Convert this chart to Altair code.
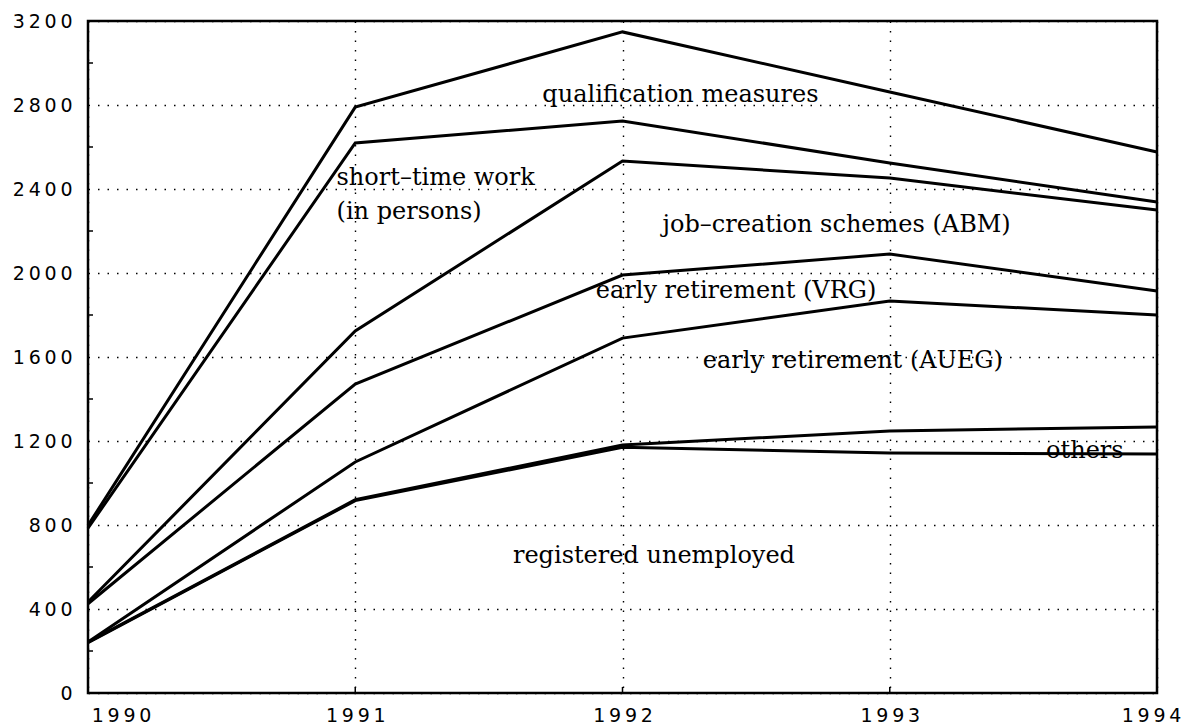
import altair as alt
import pandas as pd

years = [1990, 1991, 1992, 1993, 1994]
registered_unemployed = [240, 916, 1170, 1143, 1138]
others = [242, 920, 1181, 1248, 1267]
early_retirement_aueg = [243, 1100, 1690, 1867, 1800]
early_retirement_vrg = [425, 1471, 1990, 2090, 1914]
job_creation_abm = [433, 1724, 2533, 2452, 2300]
short_time_work = [785, 2619, 2724, 2524, 2338]
qualification = [798, 2790, 3148, 2862, 2576]

series = {
    "registered unemployed": registered_unemployed,
    "others": others,
    "early retirement (AUEG)": early_retirement_aueg,
    "early retirement (VRG)": early_retirement_vrg,
    "job-creation schemes (ABM)": job_creation_abm,
    "short-time work": short_time_work,
    "qualification measures": qualification,
}

label_texts = ["qualification measures", "short–time work", "(in persons)",
               "job–creation schemes (ABM)", "early retirement (VRG)",
               "early retirement (AUEG)", "others", "registered unemployed"]
label_x = [1991.70, 1990.93, 1990.93, 1992.15, 1991.90, 1992.30, 1993.585, 1991.59]
label_y = [2814, 2419, 2255, 2195, 1881, 1548, 1119, 619]

y_ticks = list(range(0, 3201, 400))
minor_ticks = list(range(200, 3200, 400))
x_inner_ticks = [1991, 1992, 1993]

rows = []
for name, vals in series.items():
    for yr, v in zip(years, vals):
        rows.append({"series": name, "year": yr, "value": v})
df = pd.DataFrame(rows)

ann = pd.DataFrame({"text": label_texts, "year": label_x, "value": label_y})

xscale = alt.Scale(domain=[1990, 1994], nice=False, zero=False)
yscale = alt.Scale(domain=[0, 3200], nice=False)

spaced = "join(split(format(datum.value, 'd'), ''), '\u2009')"

xaxis = alt.Axis(values=years, title=None, ticks=False, domain=False,
                 grid=True, gridDash=[1.5, 8], gridColor="#000", gridWidth=1.4,
                 labelExpr=spaced,
                 labelFont="DejaVu Sans", labelFontSize=19, labelColor="#000",
                 labelPadding=13,
                 labelOffset={"condition": [
                     {"test": "datum.value == 1990", "value": 33},
                     {"test": "datum.value == 1994", "value": -6}], "value": 0},
                 labelFlush=False)
yaxis = alt.Axis(values=y_ticks, title=None, ticks=False, domain=False,
                 grid=True, gridDash=[1.5, 8], gridColor="#000", gridWidth=1.4,
                 labelExpr=spaced,
                 labelFont="DejaVu Sans", labelFontSize=19, labelColor="#000",
                 labelPadding=16, labelFlush=False)

lines = alt.Chart(df).mark_line(color="black", strokeWidth=3).encode(
    x=alt.X("year:Q", scale=xscale, axis=xaxis),
    y=alt.Y("value:Q", scale=yscale, axis=yaxis),
    detail="series:N",
    order="year:Q",
)

ytick_df = pd.DataFrame({"value": minor_ticks})
yticks = alt.Chart(ytick_df).mark_rule(color="black", strokeWidth=1.5).encode(
    y=alt.Y("value:Q", scale=yscale), x=alt.value(0), x2=alt.value(5)
)
xtick_df = pd.DataFrame({"year": x_inner_ticks})
xticks = alt.Chart(xtick_df).mark_rule(color="black", strokeWidth=1.5).encode(
    x=alt.X("year:Q", scale=xscale), y=alt.value(672), y2=alt.value(666)
)

texts = alt.Chart(ann).mark_text(align="left", baseline="alphabetic",
                                 font="DejaVu Serif", fontSize=24, color="black").encode(
    x=alt.X("year:Q", scale=xscale),
    y=alt.Y("value:Q", scale=yscale),
    text="text:N",
)

chart = alt.layer(lines, yticks, xticks, texts).properties(
    width=1069, height=672,
    background="white",
    autosize=alt.AutoSizeParams(type="none"),
    padding={"left": 80, "top": 13, "right": 24, "bottom": 33},
).configure_view(stroke="black", strokeWidth=2.5)

chart.save("out.html", embed_options={"renderer": "svg", "actions": False})
